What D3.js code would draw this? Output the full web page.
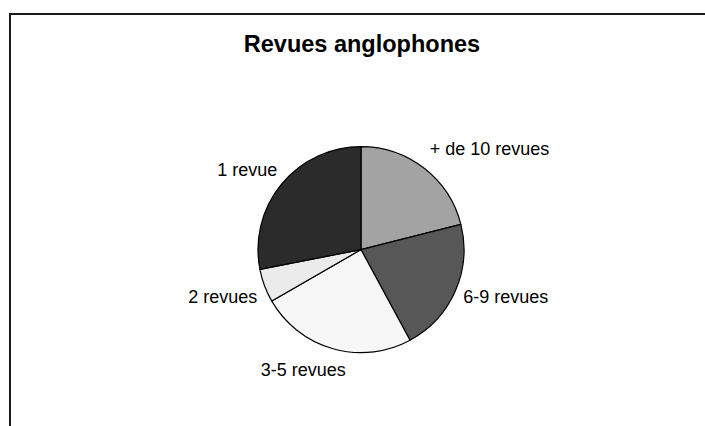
<!DOCTYPE html>
<html>
<head>
<meta charset="utf-8">
<script src="https://cdn.jsdelivr.net/npm/d3@7"></script>
<style>
  body { margin: 0; background: #fff; }
  svg { display: block; font-family: "Liberation Sans", Arial, sans-serif; }
</style>
</head>
<body>
<svg id="chart" width="705" height="426"></svg>
<script>
// Data (counts of journals)
const categories = ['+ de 10 revues', '6-9 revues', '3-5 revues', '2 revues', '1 revue'];
const values = [12, 12, 14, 3, 16];
const colors = ['#a3a3a3', '#575757', '#f7f7f7', '#ebebeb', '#2b2b2b'];
const title = 'Revues anglophones';

// Label nudges relative to the computed outside point (layout only)
const labelNudge = [[-2, -10], [-3, 1], [16, 10], [4, 7], [5, -7]];

(function() {
    const svg = d3.select('#chart');
    const cx = 361, cy = 249.6, radius = 103;

    // Frame
    svg.append('rect')
        .attr('x', 10).attr('y', 14)
        .attr('width', 800).attr('height', 500)
        .attr('fill', 'none')
        .attr('stroke', '#1a1a1a')
        .attr('stroke-width', 2);

    svg.append('text')
        .attr('x', 362).attr('y', 52)
        .attr('text-anchor', 'middle')
        .attr('font-size', 23.5)
        .attr('font-weight', 'bold')
        .attr('fill', '#000')
        .text(title);

    const data = categories.map((c, i) => ({ name: c, value: values[i], color: colors[i], idx: i }));

    const pie = d3.pie().sort(null).value(d => d.value);
    const arc = d3.arc().innerRadius(0).outerRadius(radius);
    const arcs = pie(data);

    const g = svg.append('g').attr('transform', `translate(${cx},${cy})`);

    g.selectAll('path.slice').data(arcs).enter().append('path')
        .attr('class', 'slice')
        .attr('d', arc)
        .attr('fill', d => d.data.color)
        .attr('stroke', '#000')
        .attr('stroke-width', 1.2)
        .attr('stroke-linejoin', 'round');

    const labelR = radius + 12;
    g.selectAll('text.label').data(arcs).enter().append('text')
        .attr('class', 'label')
        .attr('x', d => {
            const a = (d.startAngle + d.endAngle) / 2;
            return labelR * Math.sin(a) + labelNudge[d.data.idx][0];
        })
        .attr('y', d => {
            const a = (d.startAngle + d.endAngle) / 2;
            return -labelR * Math.cos(a) + 6 + labelNudge[d.data.idx][1];
        })
        .attr('text-anchor', d => Math.sin((d.startAngle + d.endAngle) / 2) >= 0 ? 'start' : 'end')
        .attr('font-size', 18)
        .attr('fill', '#000')
        .text(d => d.data.name);
})();
</script>
</body>
</html>
